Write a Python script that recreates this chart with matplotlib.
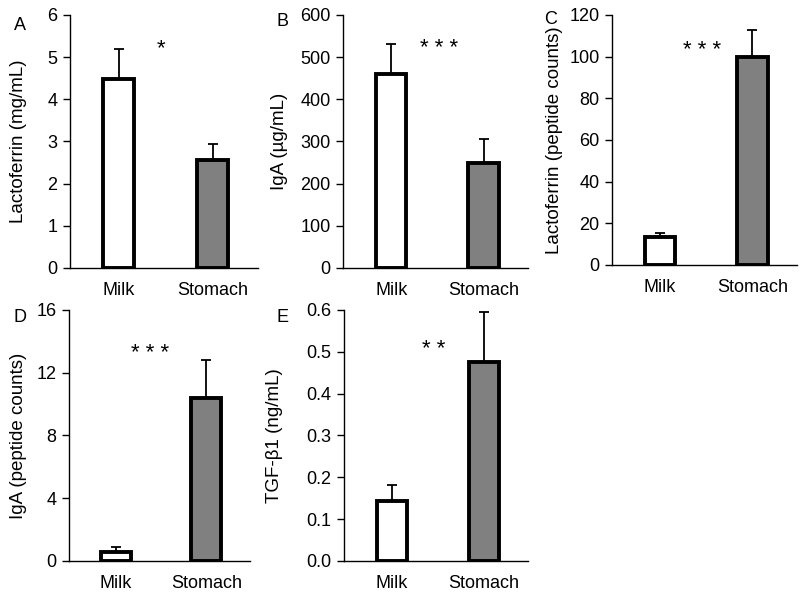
import matplotlib
matplotlib.use("Agg")
import matplotlib.pyplot as plt

plt.rcParams['font.family'] = ['Liberation Sans', 'DejaVu Sans']

groups = ["Milk", "Stomach"]
bar_colors = ["white", "#808080"]

# panel data: mean values and upper error (SD/SE)
lacto_mg = [4.47, 2.55]
lacto_mg_err = [0.72, 0.38]
iga_ug = [460, 248]
iga_ug_err = [70, 57]
lacto_pep = [13.5, 100]
lacto_pep_err = [2.0, 13]
iga_pep = [0.6, 10.4]
iga_pep_err = [0.3, 2.4]
tgf = [0.143, 0.475]
tgf_err = [0.038, 0.12]

panels = [
    ("A", lacto_mg, lacto_mg_err, "Lactoferrin (mg/mL)", (0, 6), [0, 1, 2, 3, 4, 5, 6], ["0", "1", "2", "3", "4", "5", "6"], "*", 5.2),
    ("B", iga_ug, iga_ug_err, "IgA (\u00b5g/mL)", (0, 600), [0, 100, 200, 300, 400, 500, 600], None, "* * *", 520),
    ("C", lacto_pep, lacto_pep_err, "Lactoferrin (peptide counts)", (0, 120), [0, 20, 40, 60, 80, 100, 120], None, "* * *", 103),
    ("D", iga_pep, iga_pep_err, "IgA (peptide counts)", (0, 16), [0, 4, 8, 12, 16], None, "* * *", 13.2),
    ("E", tgf, tgf_err, "TGF-\u03b21 (ng/mL)", (0, 0.6), [0.0, 0.1, 0.2, 0.3, 0.4, 0.5, 0.6],
     ["0.0", "0.1", "0.2", "0.3", "0.4", "0.5", "0.6"], "* *", 0.505),
]

# axes rectangles in figure fraction (left, bottom, width, height)
rects = [
    (0.0875, 0.5473, 0.235, 0.4274),
    (0.429, 0.5473, 0.231, 0.4274),
    (0.765, 0.5524, 0.231, 0.4223),
    (0.086, 0.0524, 0.226, 0.4240),
    (0.430, 0.0524, 0.230, 0.4240),
]
label_pos = [(20, 25), (282, 22), (551, 19), (20, 317), (282, 317)]
ylabel_x = [27, 288, 563, 27, 283]
star_x = [0.45, 0.52, 0.45, 0.38, 0.45]

fig = plt.figure(figsize=(8, 5.92), dpi=100)

for i, (letter, vals, errs, ylab, ylim, ticks, ticklabels, stars, star_y) in enumerate(panels):
    ax = fig.add_axes(rects[i])
    x = [0, 1]
    ax.bar(x, vals, width=0.33, color=bar_colors, edgecolor="black", linewidth=2.8, zorder=3)
    ax.errorbar(x, vals, yerr=[[0, 0], errs], fmt="none", ecolor="black",
                elinewidth=1.3, capsize=3.5, capthick=1.3, zorder=2)
    ax.set_xlim(-0.52, 1.48)
    ax.set_ylim(*ylim)
    ax.set_yticks(ticks)
    if ticklabels:
        ax.set_yticklabels(ticklabels)
    ax.set_xticks(x)
    ax.set_xticklabels(groups)
    ax.tick_params(axis="x", length=0, pad=10, labelsize=13)
    ax.tick_params(axis="y", direction="out", length=5, width=1, labelsize=13, pad=4)
    for s in ["top", "right"]:
        ax.spines[s].set_visible(False)
    ax.spines["left"].set_linewidth(1)
    ax.spines["bottom"].set_linewidth(1)
    ax.set_ylabel(ylab, fontsize=13.5)
    ax.yaxis.set_label_coords((ylabel_x[i] - rects[i][0] * 800) / (rects[i][2] * 800), 0.5)
    ax.text(star_x[i], star_y, stars, ha="center", va="center", fontsize=16)
    fig.text(label_pos[i][0] / 800, 1 - label_pos[i][1] / 592, letter,
             ha="center", va="center", fontsize=13)

fig.savefig("out.png", dpi=100)
